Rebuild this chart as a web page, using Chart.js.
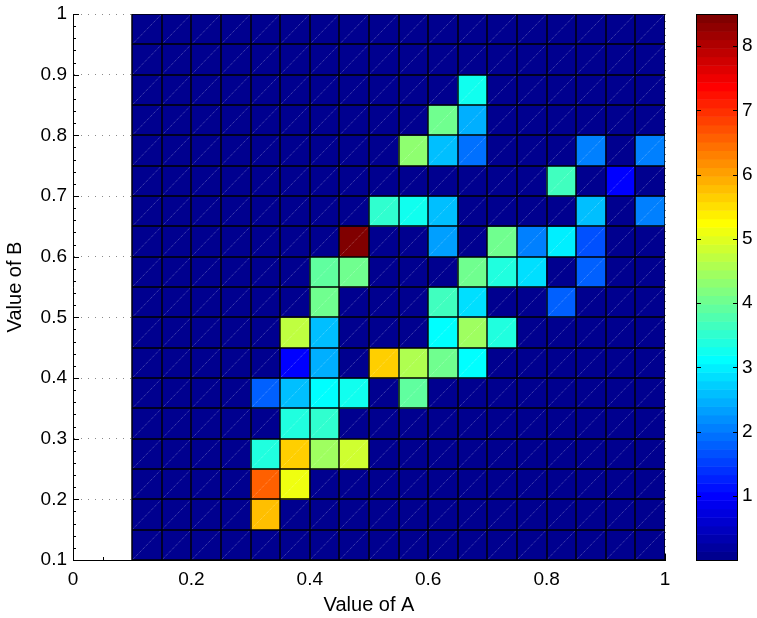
<!DOCTYPE html>
<html>
<head>
<meta charset="utf-8">
<title>Value of A vs Value of B</title>
<script src="https://cdn.jsdelivr.net/npm/chart.js@4.4.0/dist/chart.umd.min.js"></script>
<style>
  html, body { margin: 0; padding: 0; background: #fff; }
</style>
</head>
<body>
<canvas id="heatmap" width="757" height="618"></canvas>
<script>
// bin edges along A (x) and B (y)
const aEdges = [0.1, 0.15, 0.2, 0.25, 0.3, 0.35, 0.4, 0.45, 0.5, 0.55, 0.6, 0.65, 0.7, 0.75, 0.8, 0.85, 0.9, 0.95, 1.0];
const bEdges = [0.1, 0.15, 0.2, 0.25, 0.3, 0.35, 0.4, 0.45, 0.5, 0.55, 0.6, 0.65, 0.7, 0.75, 0.8, 0.85, 0.9, 0.95, 1.0];

// one row per B bin, bottom (0.10-0.15) to top (0.95-1.00), one entry per A bin
const counts = [
  [0, 0, 0, 0, 0,    0,    0,    0,    0,   0,    0,    0,    0,    0,   0,    0,    0,    0  ],
  [0, 0, 0, 0, 5.8,  0,    0,    0,    0,   0,    0,    0,    0,    0,   0,    0,    0,    0  ],
  [0, 0, 0, 0, 6.6,  5.1,  0,    0,    0,   0,    0,    0,    0,    0,   0,    0,    0,    0  ],
  [0, 0, 0, 0, 3.4,  5.7,  4.45, 4.85, 0,   0,    0,    0,    0,    0,   0,    0,    0,    0  ],
  [0, 0, 0, 0, 0,    3.4,  3.55, 0,    0,   0,    0,    0,    0,    0,   0,    0,    0,    0  ],
  [0, 0, 0, 0, 1.8,  2.6,  3.1,  3.3,  0,   3.9,  0,    0,    0,    0,   0,    0,    0,    0  ],
  [0, 0, 0, 0, 0,    1.0,  2.5,  0,    5.6, 4.6,  4.05, 3.1,  0,    0,   0,    0,    0,    0  ],
  [0, 0, 0, 0, 0,    4.7,  2.65, 0,    0,   0,    3.1,  4.5,  3.4,  0,   0,    0,    0,    0  ],
  [0, 0, 0, 0, 0,    0,    4.1,  0,    0,   0,    3.65, 2.85, 0,    0,   1.85, 0,    0,    0  ],
  [0, 0, 0, 0, 0,    0,    3.9,  4.05, 0,   0,    0,    4.1,  3.4,  2.8, 0,    1.8,  0,    0  ],
  [0, 0, 0, 0, 0,    0,    0,    8.5,  0,   0,    2.3,  0,    4.05, 2.0, 2.95, 1.65, 0,    0  ],
  [0, 0, 0, 0, 0,    0,    0,    0,    3.5, 3.25, 2.65, 0,    0,    0,   0,    2.65, 0,    2.1],
  [0, 0, 0, 0, 0,    0,    0,    0,    0,   0,    0,    0,    0,    0,   3.65, 0,    0.95, 0  ],
  [0, 0, 0, 0, 0,    0,    0,    0,    0,   4.3,  2.65, 1.95, 0,    0,   0,    2.05, 0,    2.0],
  [0, 0, 0, 0, 0,    0,    0,    0,    0,   0,    4.05, 2.4,  0,    0,   0,    0,    0,    0  ],
  [0, 0, 0, 0, 0,    0,    0,    0,    0,   0,    0,    3.25, 0,    0,   0,    0,    0,    0  ],
  [0, 0, 0, 0, 0,    0,    0,    0,    0,   0,    0,    0,    0,    0,   0,    0,    0,    0  ],
  [0, 0, 0, 0, 0,    0,    0,    0,    0,   0,    0,    0,    0,    0,   0,    0,    0,    0  ]
];

const aTicks = [0, 0.2, 0.4, 0.6, 0.8, 1];
const bTicks = [0.1, 0.2, 0.3, 0.4, 0.5, 0.6, 0.7, 0.8, 0.9, 1];
const colorTicks = [1, 2, 3, 4, 5, 6, 7, 8];

const cMin = 0;
const cMax = Math.max(...counts.flat());
const nColors = 64;

// classic 64-step jet colormap, i = 1..64
function jet(i) {
  const clamp = x => Math.max(0, Math.min(1, x));
  const r = i <= 24 ? 0 : i <= 40 ? (i - 24) / 16 : i <= 56 ? 1 : (72 - i) / 16;
  const g = i <= 8 ? 0 : i <= 24 ? (i - 8) / 16 : i <= 40 ? 1 : (56 - i) / 16;
  const b = i <= 8 ? (i + 8) / 16 : i <= 24 ? 1 : (40 - i) / 16;
  return `rgb(${Math.round(clamp(r) * 255)},${Math.round(clamp(g) * 255)},${Math.round(clamp(b) * 255)})`;
}

function colorFor(v) {
  const idx = Math.floor((v - cMin) / (cMax - cMin) * nColors) + 1;
  return jet(Math.max(1, Math.min(nColors, idx)));
}

// one floating bar per cell
const cells = [];
counts.forEach((row, r) => {
  row.forEach((v, c) => {
    cells.push({
      x: (aEdges[c] + aEdges[c + 1]) / 2,
      y: [bEdges[r], bEdges[r + 1]],
      v: v
    });
  });
});

const FONT = 'Liberation Sans, Arial, Helvetica, sans-serif';

// keep tick-label overhang from pushing the plot area around
function fixSize(prop, size) {
  return s => {
    s[prop] = size;
    s.paddingTop = 0;
    s.paddingBottom = 0;
  };
}

// small inward ticks along the left and bottom axes (sit under the cells)
const axisTicks = {
  id: 'axisTicks',
  beforeDatasetsDraw(chart) {
    const {ctx, chartArea, scales: {x, y}} = chart;
    ctx.save();
    ctx.strokeStyle = '#000';
    ctx.lineWidth = 1;
    ctx.beginPath();
    for (let v = 0.1; v <= 1.0001; v += 0.02) {
      const py = Math.round(y.getPixelForValue(v)) + 0.5;
      const major = Math.abs(v * 10 - Math.round(v * 10)) < 1e-6;
      ctx.moveTo(chartArea.left, py);
      ctx.lineTo(chartArea.left + (major ? 6 : 3), py);
    }
    for (let v = 0; v <= 1.0001; v += 0.05) {
      const px = Math.round(x.getPixelForValue(v)) + 0.5;
      const major = Math.abs(v * 5 - Math.round(v * 5)) < 1e-6;
      ctx.moveTo(px, chartArea.bottom);
      ctx.lineTo(px, chartArea.bottom - (major ? 6 : 3));
    }
    ctx.stroke();
    ctx.restore();
  }
};

// black cell edges plus the faint diagonal through every cell
const cellEdges = {
  id: 'cellEdges',
  afterDatasetsDraw(chart) {
    const {ctx, chartArea} = chart;
    const meta = chart.getDatasetMeta(0);
    ctx.save();
    ctx.beginPath();
    ctx.rect(chartArea.left, chartArea.top, chartArea.width, chartArea.height + 1);
    ctx.clip();

    ctx.strokeStyle = 'rgba(255,255,255,0.42)';
    ctx.lineWidth = 0.8;
    ctx.setLineDash([1, 1]);
    ctx.beginPath();
    meta.data.forEach(bar => {
      const {x, y, base, width} = bar.getProps(['x', 'y', 'base', 'width'], true);
      ctx.moveTo(x - width / 2 + 1, base - 1);
      ctx.lineTo(x + width / 2 - 1, y + 1);
    });
    ctx.stroke();

    ctx.setLineDash([]);
    ctx.strokeStyle = '#000';
    ctx.lineWidth = 1.4;
    ctx.beginPath();
    meta.data.forEach(bar => {
      const {x, y, base, width} = bar.getProps(['x', 'y', 'base', 'width'], true);
      const l = Math.round(x - width / 2), r = Math.round(x + width / 2);
      const t = Math.round(y), b = Math.round(base);
      ctx.moveTo(l, b); ctx.lineTo(r, b);
      ctx.moveTo(l, t); ctx.lineTo(r, t);
      ctx.moveTo(l, t); ctx.lineTo(l, b);
      ctx.moveTo(r, t); ctx.lineTo(r, b);
    });
    ctx.stroke();
    ctx.restore();
  }
};

// colour bar drawn along the right-hand scale
const colorBar = {
  id: 'colorBar',
  afterDraw(chart) {
    const {ctx} = chart;
    const cb = chart.scales.cb;
    const x0 = cb.left + 31;
    const w = 41;
    ctx.save();
    for (let i = 1; i <= nColors; i++) {
      const yLo = cb.getPixelForValue(cMin + (i - 1) / nColors * (cMax - cMin));
      const yHi = cb.getPixelForValue(cMin + i / nColors * (cMax - cMin));
      ctx.fillStyle = jet(i);
      ctx.fillRect(x0, yHi, w, yLo - yHi + 0.5);
    }
    const top = cb.getPixelForValue(cMax);
    const bottom = cb.getPixelForValue(cMin);
    ctx.strokeStyle = '#000';
    ctx.lineWidth = 1;
    ctx.strokeRect(Math.round(x0) + 0.5, Math.round(top) + 0.5, w, Math.round(bottom - top));
    ctx.beginPath();
    colorTicks.forEach(v => {
      const py = Math.round(cb.getPixelForValue(v)) + 0.5;
      ctx.moveTo(x0, py);
      ctx.lineTo(x0 + 5, py);
      ctx.moveTo(x0 + w - 4, py);
      ctx.lineTo(x0 + w + 1, py);
    });
    ctx.stroke();
    ctx.restore();
  }
};

new Chart(document.getElementById('heatmap'), {
  type: 'bar',
  data: {
    datasets: [{
      data: cells,
      backgroundColor: ctx => colorFor(ctx.raw.v),
      borderWidth: 0,
      barPercentage: 1,
      categoryPercentage: 1
    }]
  },
  options: {
    responsive: false,
    animation: false,
    devicePixelRatio: 1,
    layout: { padding: { top: 14, left: 0, right: 0, bottom: 0 } },
    plugins: {
      legend: { display: false },
      tooltip: { enabled: false }
    },
    scales: {
      x: {
        type: 'linear',
        min: 0,
        max: 1,
        offset: false,
        afterBuildTicks: s => { s.ticks = aTicks.map(v => ({ value: v })); },
        afterFit: s => { s.height = 58; },
        ticks: {
          callback: v => String(v),
          color: '#000',
          padding: 8,
          maxRotation: 0,
          font: { family: FONT, size: 19 }
        },
        grid: { offset: false, color: '#8a8a8a', lineWidth: 1, drawTicks: false },
        border: { display: true, color: '#000', width: 1, dash: [1, 6] },
        title: {
          display: true,
          text: 'Value of A',
          color: '#000',
          padding: { top: 0, bottom: 1 },
          font: { family: FONT, size: 20 }
        }
      },
      y: {
        type: 'linear',
        position: 'left',
        min: 0.1,
        max: 1,
        afterBuildTicks: s => { s.ticks = bTicks.map(v => ({ value: v })); },
        afterFit: fixSize('width', 73),
        ticks: {
          callback: v => String(v),
          color: '#000',
          padding: 6,
          font: { family: FONT, size: 19 }
        },
        grid: { color: '#8a8a8a', lineWidth: 1, drawTicks: false },
        border: { display: true, color: '#000', width: 1, dash: [1, 6] },
        title: {
          display: true,
          text: 'Value of B',
          color: '#000',
          padding: { top: 3, bottom: 0 },
          font: { family: FONT, size: 20 }
        }
      },
      cb: {
        type: 'linear',
        position: 'right',
        display: true,
        min: cMin,
        max: cMax,
        afterBuildTicks: s => { s.ticks = colorTicks.map(v => ({ value: v })); },
        afterFit: fixSize('width', 92),
        ticks: {
          callback: v => String(v),
          color: '#000',
          padding: 77,
          font: { family: FONT, size: 19 }
        },
        grid: { display: false, drawTicks: false },
        border: { display: false }
      }
    }
  },
  plugins: [axisTicks, cellEdges, colorBar]
});
</script>
</body>
</html>
